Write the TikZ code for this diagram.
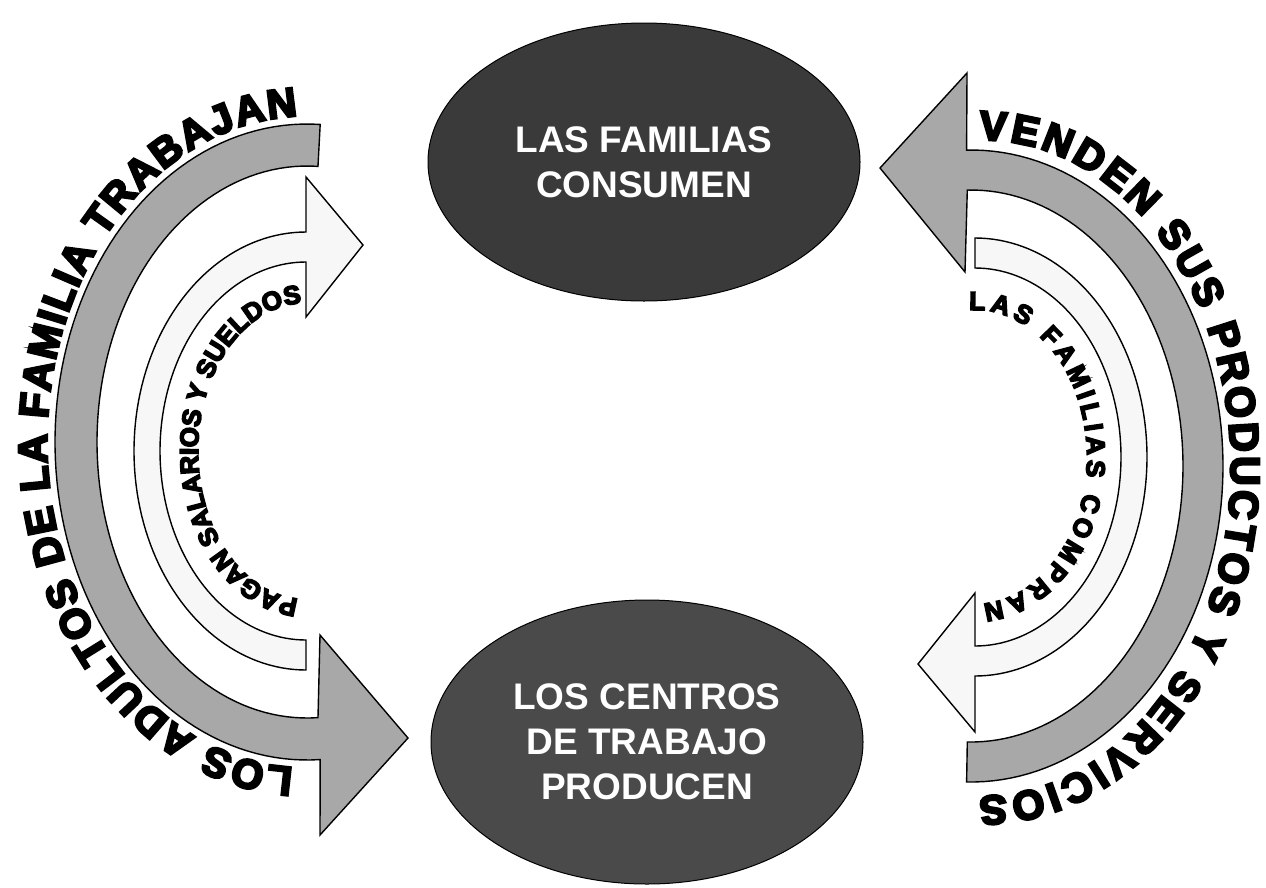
\documentclass[tikz,border=0pt]{standalone}
\usepackage{fontspec}
\setmainfont{Liberation Sans}
\newfontfamily\arcfont{Liberation Sans Bold}[FakeBold=6]
\usetikzlibrary{shapes.geometric,decorations.text}
\definecolor{ovalA}{RGB}{58,58,58}
\definecolor{ovalB}{RGB}{74,74,74}
\definecolor{bandgray}{RGB}{168,168,168}
\definecolor{bandwhite}{RGB}{247,247,247}
\tikzset{
  oval/.style={ellipse, draw=black, line width=1pt, minimum width=432pt, minimum height=278pt,
    inner sep=0pt, text=white, align=center, font=\bfseries\fontsize{37}{45}\selectfont},
  grayband/.style={fill=bandgray, draw=black, line width=1.4pt, line join=miter},
  whiteband/.style={fill=bandwhite, draw=black, line width=1.4pt, line join=miter},
  bigarc/.style={decorate, decoration={text along path, text align={fit to path},
    text={|\arcfont\fontsize{41}{41}\selectfont|#1}}},
  smallarc/.style={decorate, decoration={text along path, text align={fit to path},
    text={|\arcfont\fontsize{26}{26}\selectfont|#1}}},
}
\begin{document}
\begin{tikzpicture}[x=1pt,y=-1pt]
\useasboundingbox (0,0) rectangle (1266,887);
\fill[white] (0,0) rectangle (1266,887);

% ovals
\node[oval, fill=ovalA] (consume) at (644,162) {LAS FAMILIAS\\CONSUMEN};
\node[oval, fill=ovalB, minimum height=284pt] (produce) at (647,742) {LOS CENTROS\\DE TRABAJO\\PRODUCEN};

% left outer gray arrow (top -> around left -> bottom, pointing right)
\draw[grayband] plot[domain=87:273,samples=90] ({307+252*cos(\x)},{442-318*sin(\x)})
  -- (320,835) -- (408,738) -- (320,635)
  -- plot[domain=273:87,samples=90] ({307+210*cos(\x)},{442-276*sin(\x)}) -- cycle;

% left inner white arrow (bottom -> around left -> top, pointing right)
\draw[whiteband] plot[domain=270:90,samples=90] ({306+172*cos(\x)},{451-219*sin(\x)})
  -- (306,177) -- (363,245) -- (306,317)
  -- plot[domain=90:270,samples=90] ({306+146*cos(\x)},{451-189*sin(\x)}) -- cycle;

% right inner white arrow (top -> around right -> bottom, pointing left)
\draw[whiteband] plot[domain=90:-90,samples=90] ({975+172*cos(\x)},{457-219*sin(\x)})
  -- (975,732) -- (918,664) -- (975,593)
  -- plot[domain=-90:90,samples=90] ({975+146*cos(\x)},{457-189*sin(\x)}) -- cycle;

% right outer gray arrow (bottom -> around right -> top, pointing left)
\draw[grayband] plot[domain=91:-91,samples=90] ({971+252*cos(\x)},{466-316*sin(\x)})
  -- plot[domain=-91:91,samples=90] ({971+212*cos(\x)},{466-276*sin(\x)})
  -- (965,272) -- (880,168) -- (967,73) -- cycle;

% curved labels
\path[bigarc={LOS ADULTOS DE LA FAMILIA TRABAJAN}]
  plot[domain=267:92,samples=120] ({307+260*cos(\x)},{442-326*sin(\x)});
\path[bigarc={VENDEN SUS PRODUCTOS Y SERVICIOS}]
  plot[domain=91:-91,samples=120] ({983+248*cos(\x)},{468-328*sin(\x)});
\path[smallarc={PAGAN SALARIOS Y SUELDOS}]
  plot[domain=266:93,samples=120] ({306+108*cos(\x)},{451-148*sin(\x)});
\path[smallarc={LAS FAMILIAS COMPRAN}]
  plot[domain=93:-86,samples=120] ({975+112*cos(\x)},{457-147*sin(\x)});
\end{tikzpicture}
\end{document}
